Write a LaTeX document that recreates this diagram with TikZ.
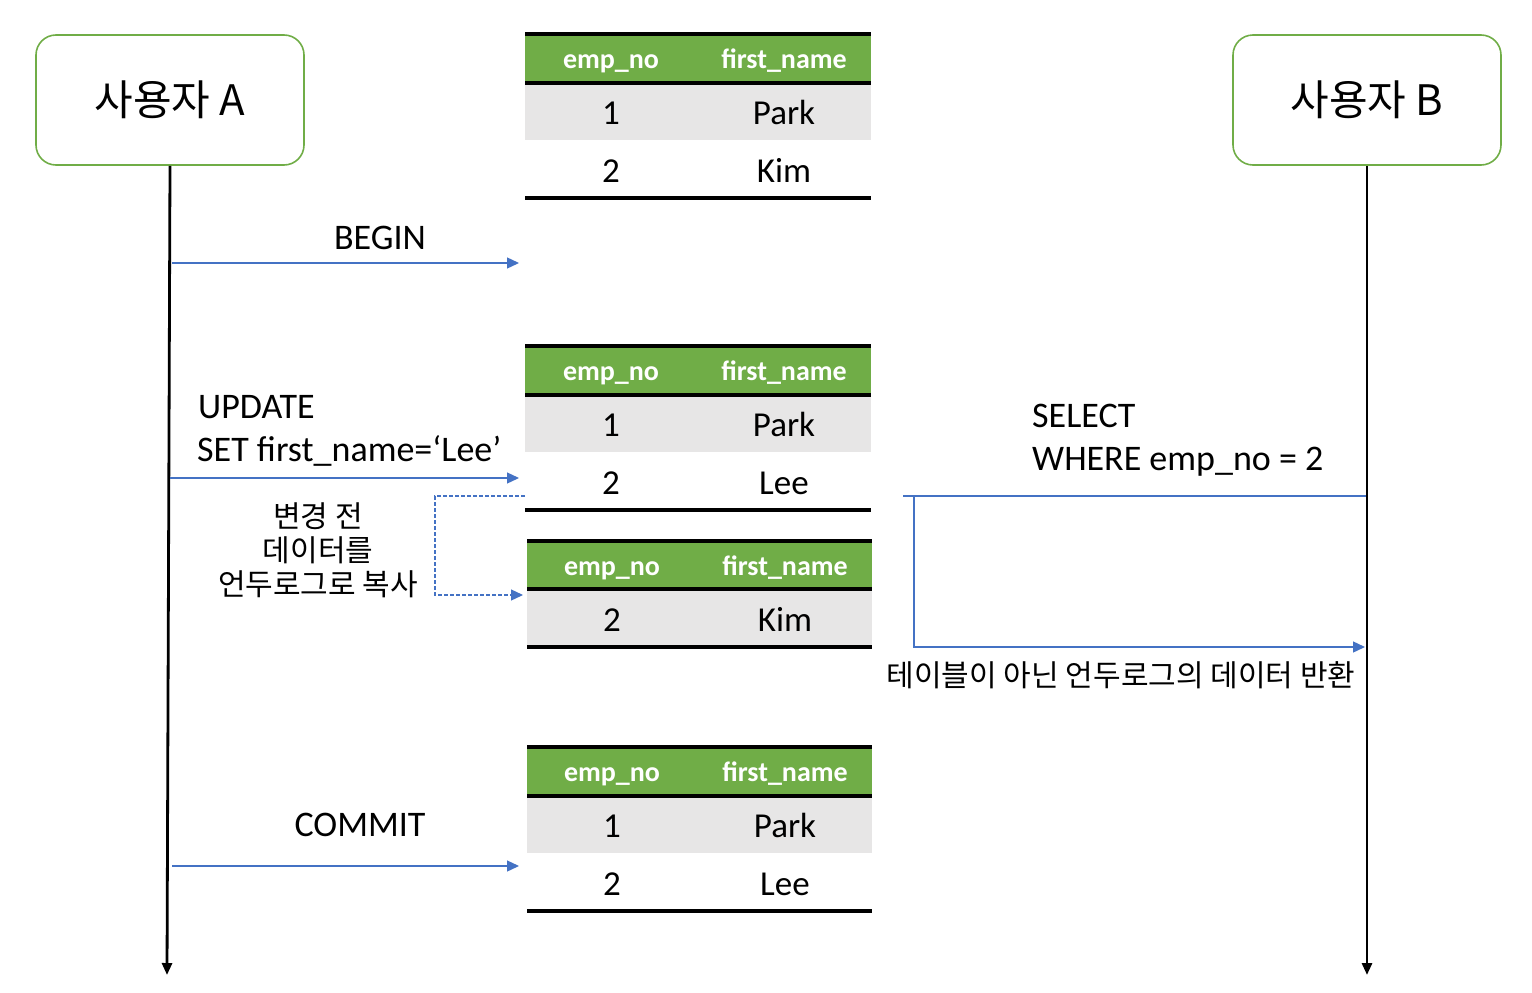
\documentclass[tikz,border=0pt]{standalone}
\usepackage{fontspec}
\setmainfont{Carlito}
\newfontfamily\kr{Noto Sans CJK KR}
\usetikzlibrary{arrows.meta}
\definecolor{hgreen}{HTML}{70AD47}
\definecolor{hgray}{HTML}{E7E6E6}
\definecolor{hblue}{HTML}{4472C4}
\begin{document}
\begin{tikzpicture}[x=1pt,y=-1pt,
  actor/.style={draw=hgreen, line width=1.6pt, rounded corners=20pt, minimum width=268pt, minimum height=130pt, inner sep=0pt, font=\kr\fontsize{42}{48}\selectfont},
  lifeline/.style={line width=2.8pt, -{Triangle[length=12pt,width=10pt]}},
  tline/.style={line width=4pt},
  hd/.style={anchor=base, inner sep=0pt, text=white, font=\fontsize{28}{32}\selectfont\bfseries},
  cell/.style={anchor=base, inner sep=0pt, font=\fontsize{35}{40}\selectfont},
  lbl/.style={anchor=base, inner sep=0pt, font=\fontsize{36}{42}\selectfont},
  krlbl/.style={inner sep=0pt, align=center, font=\kr\fontsize{30}{34}\selectfont},
  msg/.style={draw=hblue, line width=1.3pt, -{Triangle[length=12pt,width=11pt]}},
  plainmsg/.style={draw=hblue, line width=1.3pt},
  dmsg/.style={draw=hblue, line width=1.2pt, dash pattern=on 4pt off 2pt, -{Triangle[length=12pt,width=11pt]}}
]
\useasboundingbox (0,0) rectangle (1532,993);

% actors
\node[actor] (A) at (170,100) {사용자 A};
\node[actor] (B) at (1367,100) {사용자 B};
\coordinate (Aend) at (167,975);
\coordinate (Bend) at (1367,975);
\draw[lifeline] (A.south) -- (Aend);
\draw[lifeline] (B.south) -- (Bend);

% table 1
\fill[hgreen] (525,36) rectangle (871,82);
\fill[hgray] (525,85) rectangle (871,140);
\draw[tline] (525,34) -- (871,34);
\draw[tline] (525,83) -- (871,83);
\draw[tline] (525,198) -- (871,198);
\node[hd] (t1h1) at (611,68) {emp\_no};
\node[hd] (t1h2) at (784,68) {first\_name};
\node[cell] (t1a1) at (611,124) {1};
\node[cell] (t1b1) at (784,124) {Park};
\node[cell] (t1a2) at (611,182) {2};
\node[cell] (t1b2) at (784,182) {Kim};

% table 2
\fill[hgreen] (525,348) rectangle (871,394);
\fill[hgray] (525,397) rectangle (871,452);
\draw[tline] (525,346) -- (871,346);
\draw[tline] (525,395) -- (871,395);
\draw[tline] (525,510) -- (871,510);
\node[hd] (t2h1) at (611,380) {emp\_no};
\node[hd] (t2h2) at (784,380) {first\_name};
\node[cell] (t2a1) at (611,436) {1};
\node[cell] (t2b1) at (784,436) {Park};
\node[cell] (t2a2) at (611,494) {2};
\node[cell] (t2b2) at (784,494) {Lee};

% table 3 (undo)
\fill[hgreen] (527,543) rectangle (872,588);
\fill[hgray] (527,591) rectangle (872,646);
\draw[tline] (527,541) -- (872,541);
\draw[tline] (527,589) -- (872,589);
\draw[tline] (527,647) -- (872,647);
\node[hd] (t3h1) at (612,575) {emp\_no};
\node[hd] (t3h2) at (785,575) {first\_name};
\node[cell] (t3a1) at (612,631) {2};
\node[cell] (t3b1) at (785,631) {Kim};

% table 4
\fill[hgreen] (527,749) rectangle (872,795);
\fill[hgray] (527,798) rectangle (872,853);
\draw[tline] (527,747) -- (872,747);
\draw[tline] (527,796) -- (872,796);
\draw[tline] (527,911) -- (872,911);
\node[hd] (t4h1) at (612,781) {emp\_no};
\node[hd] (t4h2) at (785,781) {first\_name};
\node[cell] (t4a1) at (612,837) {1};
\node[cell] (t4b1) at (785,837) {Park};
\node[cell] (t4a2) at (612,895) {2};
\node[cell] (t4b2) at (785,895) {Lee};

% BEGIN
\coordinate (bs) at (172,263);
\coordinate (be) at (519,263);
\draw[msg] (bs) -- (be);
\node[lbl] (begin) at (380,249) {BEGIN};

% UPDATE
\coordinate (us) at (170,478);
\coordinate (ue) at (519,478);
\draw[msg] (us) -- (ue);
\node[lbl, anchor=base west] (upd1) at (198,418) {UPDATE};
\node[lbl, anchor=base west] (upd2) at (197,461) {SET first\_name=‘Lee’};

% undo copy
\coordinate (ds) at (525,496);
\coordinate (dm) at (435,496);
\coordinate (de) at (523,595);
\draw[dmsg] (ds) -- (dm) |- (de);
\node[krlbl] (copy) at (318,550) {변경 전\\데이터를\\언두로그로 복사};

% SELECT
\coordinate (ss) at (1366,496);
\coordinate (se) at (903,496);
\coordinate (rs) at (914,496);
\coordinate (re) at (1365,647);
\draw[plainmsg] (ss) -- (se);
\draw[msg] (rs) |- (re);
\node[lbl, anchor=base west] (sel1) at (1032,427) {SELECT};
\node[lbl, anchor=base west] (sel2) at (1032,470) {WHERE emp\_no = 2};
\node[krlbl] (ret) at (1121,675) {테이블이 아닌 언두로그의 데이터 반환};

% COMMIT
\coordinate (cs) at (172,866);
\coordinate (ce) at (519,866);
\draw[msg] (cs) -- (ce);
\node[lbl] (commit) at (360,836) {COMMIT};
\end{tikzpicture}
\end{document}
